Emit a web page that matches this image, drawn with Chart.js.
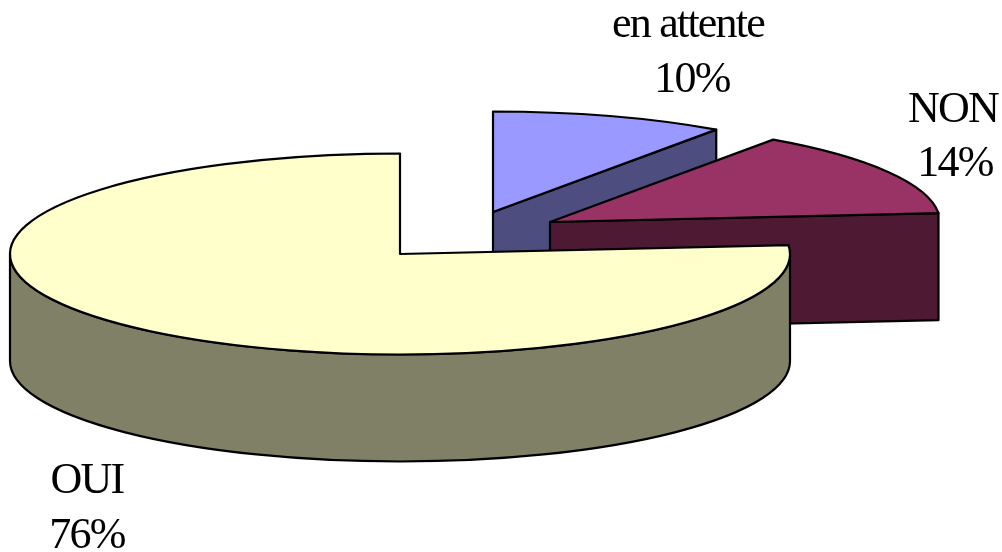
<!DOCTYPE html>
<html>
<head>
<meta charset="utf-8">
<script src="https://cdn.jsdelivr.net/npm/chart.js@4/dist/chart.umd.min.js"></script>
<style>
html, body { margin: 0; padding: 0; background: #fff; overflow: hidden; }
canvas { display: block; }
</style>
</head>
<body>
<canvas id="pieChart" width="1002" height="552"></canvas>
<script>
const categories = ['en attente', 'NON', 'OUI'];
const shares = [9.7, 13.9, 76.4];
const topColors = ['#9999FF', '#993366', '#FFFFCC'];
const sideColors = ['#4D4D80', '#4D1933', '#808066'];

// where each slice and its two text lines sit on the page
const sliceCenters = [[493, 212], [550, 222], [400, 254]];
const nameSpots = [[688, 37], [953, 122], [87, 493]];
const shareSpots = [[692, 92], [955, 176], [87, 548]];

const radiusX = 390;
const radiusY = 100.5;
const depth = 107;

function rimPoint(c, a, drop) {
    return [c[0] + radiusX * Math.cos(a), c[1] + radiusY * Math.sin(a) + drop];
}

function paint(ctx, color) {
    ctx.fillStyle = color;
    ctx.fill();
    ctx.stroke();
}

function drawCutFace(ctx, c, a, color) {
    const rim = rimPoint(c, a, 0);
    ctx.beginPath();
    ctx.moveTo(c[0], c[1]);
    ctx.lineTo(rim[0], rim[1]);
    ctx.lineTo(rim[0], rim[1] + depth);
    ctx.lineTo(c[0], c[1] + depth);
    ctx.closePath();
    paint(ctx, color);
}

// outer wall, only the part that faces the viewer
function drawWall(ctx, c, start, end, color) {
    const from = Math.max(start, 0);
    const to = Math.min(end, Math.PI);
    if (to <= from) return;
    ctx.beginPath();
    ctx.ellipse(c[0], c[1], radiusX, radiusY, 0, from, to);
    ctx.ellipse(c[0], c[1] + depth, radiusX, radiusY, 0, to, from, true);
    ctx.closePath();
    paint(ctx, color);
}

const pie3d = {
    id: 'pie3d',
    beforeDatasetsDraw(chart) {
        const ctx = chart.ctx;
        const arcs = chart.getDatasetMeta(0).data;
        ctx.save();
        ctx.strokeStyle = '#000';
        ctx.lineWidth = 2.2;
        ctx.lineJoin = 'round';
        arcs.forEach((arc, i) => {
            const c = sliceCenters[i];
            const start = arc.startAngle;
            const end = arc.endAngle;
            if (Math.cos(end) > 0) drawCutFace(ctx, c, end, sideColors[i]);
            if (Math.cos(start) < 0) drawCutFace(ctx, c, start, sideColors[i]);
            drawWall(ctx, c, start, end, sideColors[i]);
            ctx.beginPath();
            ctx.moveTo(c[0], c[1]);
            ctx.ellipse(c[0], c[1], radiusX, radiusY, 0, start, end);
            ctx.closePath();
            paint(ctx, topColors[i]);
        });
        ctx.restore();
        return false;
    },
    afterDraw(chart) {
        const ctx = chart.ctx;
        const total = shares.reduce((a, b) => a + b, 0);
        ctx.save();
        ctx.fillStyle = '#000';
        ctx.font = '44px "Liberation Serif"';
        ctx.letterSpacing = '-1.8px';
        ctx.textAlign = 'center';
        ctx.textBaseline = 'alphabetic';
        categories.forEach((name, i) => {
            ctx.fillText(name, nameSpots[i][0], nameSpots[i][1]);
            ctx.fillText(Math.round(shares[i] / total * 100) + '%', shareSpots[i][0], shareSpots[i][1]);
        });
        ctx.restore();
    }
};

new Chart(document.getElementById('pieChart').getContext('2d'), {
    type: 'pie',
    data: {
        labels: categories,
        datasets: [{ data: shares, backgroundColor: topColors }]
    },
    options: {
        responsive: false,
        animation: false,
        plugins: {
            legend: { display: false },
            tooltip: { enabled: false }
        }
    },
    plugins: [pie3d]
});
</script>
</body>
</html>
